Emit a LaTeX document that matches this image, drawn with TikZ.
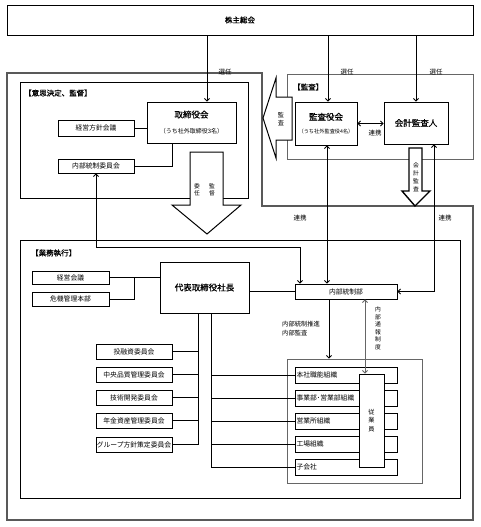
\documentclass[tikz,border=0pt]{standalone}
\usepackage{fontspec}
\setmainfont{Noto Sans CJK JP}
\newfontfamily\jpbold[FakeBold=0.7]{Noto Sans CJK JP}
\usetikzlibrary{arrows.meta}
\begin{document}
\begin{tikzpicture}[x=1pt,y=-1pt,
 box/.style={draw=black, line width=0.9pt, fill=white, inner sep=0pt, font=\fontsize{6.8}{8}\selectfont},
 orgb/.style={box, minimum width=102pt, minimum height=16pt, text width=99pt, align=left, inner xsep=1.5pt},
 comm/.style={box, minimum width=76pt, minimum height=15pt},
 lbl/.style={inner sep=0pt, font=\fontsize{6.5}{7.5}\selectfont},
 vlbl/.style={inner sep=0pt, align=center},
 hdr/.style={inner sep=0pt, anchor=west, font=\jpbold\fontsize{7.5}{9}\selectfont},
 conn/.style={line width=0.8pt},
 arr/.style={conn, -{Straight Barb[length=2.5pt,width=5pt]}},
 arrb/.style={conn, {Straight Barb[length=2.5pt,width=5pt]}-{Straight Barb[length=2.5pt,width=5pt]}},
 blockarrow/.style={draw=black, line width=1pt, fill=white},
 areabox/.style={line width=1pt},
]
\useasboundingbox (0,0) rectangle (480,527);
\fill[white] (0,0) rectangle (480,527);

% outer frame and areas
\draw[draw=black!65, line width=2.2pt] (7,73) -- (262,73) -- (262,206) -- (473,206) -- (473,520) -- (7,520) -- cycle;
\draw[areabox] (20,82) rectangle (248,198);
\draw[areabox, draw=black!60] (287,74) rectangle (473,159);
\draw[areabox] (20,240) rectangle (460,498);

% block arrows
\draw[blockarrow] (190,152) -- (223,152) -- (223,205) -- (241,205) -- (207,234) -- (172,205) -- (190,205) -- cycle;
\draw[blockarrow] (292,97) -- (276,97) -- (276,78) -- (263,118) -- (276,158) -- (276,140) -- (292,140) -- cycle;
\draw[blockarrow, line width=1.4pt] (409,148) -- (422,148) -- (422,191) -- (430,191) -- (415,206) -- (402,191) -- (409,191) -- cycle;

% headers
\node[hdr] (h1) at (24,93) {【意思決定、監督】};
\node[hdr] (h2) at (293,87) {【監査】};
\node[hdr] (h3) at (31,253) {【業務執行】};

% main nodes
\node[box, minimum width=466pt, minimum height=30pt, font=\jpbold\fontsize{7.5}{9}\selectfont] (sh) at (240,20) {株主総会};
\node[box, minimum width=89pt, minimum height=41pt, align=center, font=\jpbold\fontsize{8.5}{16}\selectfont] (tor) at (191.5,122.5) {取締役会\\{\normalfont\fontsize{6}{7}\selectfont （うち社外取締役3名）}};
\node[box, minimum width=62pt, minimum height=43pt, align=center, font=\jpbold\fontsize{8.5}{13.5}\selectfont] (kan) at (326,123.5) {監査役会\\{\normalfont\fontsize{5.2}{6}\selectfont （うち社外監査役4名）}};
\node[box, minimum width=64pt, minimum height=42pt, font=\jpbold\fontsize{8.5}{10}\selectfont] (kai) at (416,123) {会計監査人};
\node[box, minimum width=76pt, minimum height=16pt] (keiei) at (96,128) {経営方針会議};
\node[box, minimum width=76pt, minimum height=14pt] (naibuiin) at (96,166) {内部統制委員会};

\node[box, minimum width=89pt, minimum height=51pt, font=\jpbold\fontsize{8.5}{10}\selectfont] (daihyo) at (204.5,287.5) {代表取締役社長};
\node[box, minimum width=77pt, minimum height=13pt] (keieikaigi) at (70.5,277.5) {経営会議};
\node[box, minimum width=77pt, minimum height=14pt] (kiki) at (70.5,299) {危機管理本部};
\node[box, minimum width=102pt, minimum height=15pt] (naibu) at (346,291.5) {内部統制部};

\node[comm] (c1) at (134,351.5) {投融資委員会};
\node[comm] (c2) at (134,374.5) {中央品質管理委員会};
\node[comm] (c3) at (134,397.5) {技術開発委員会};
\node[comm] (c4) at (134,420.5) {年金資産管理委員会};
\node[comm] (c5) at (134,444.5) {グループ方針策定委員会};

\node[box, draw=black!60, minimum width=135pt, minimum height=124pt] (orgbox) at (354.5,421) {};
\node[orgb] (o1) at (346,375) {本社職能組織};
\node[orgb] (o2) at (346,398) {事業部･営業部組織};
\node[orgb] (o3) at (346,421) {営業所組織};
\node[orgb] (o4) at (346,444) {工場組織};
\node[orgb] (o5) at (346,467) {子会社};
\node[box, minimum width=25pt, minimum height=93pt, align=center, font=\fontsize{6.2}{8.5}\selectfont] (jug) at (371.5,420.5) {従\\業\\員};

% labels
\node[lbl] (s1) at (225,72) {選任};
\node[lbl] (s2) at (347,72) {選任};
\node[lbl] (s3) at (436,72) {選任};
\node[lbl] (r1) at (375,133) {連携};
\node[lbl] (r2) at (300,218) {連携};
\node[lbl] (r3) at (445,218) {連携};
\node[vlbl, font=\fontsize{5.8}{6.5}\selectfont] (v1) at (197,190) {委\\任};
\node[vlbl, font=\fontsize{5.8}{6.5}\selectfont] (v2) at (212,190) {監\\督};
\node[vlbl, font=\fontsize{6.2}{8}\selectfont] (v3) at (281,119.5) {監\\査};
\node[vlbl, font=\fontsize{5.8}{8}\selectfont] (v4) at (416,177) {会\\計\\監\\査};
\node[vlbl, font=\fontsize{5.8}{7.5}\selectfont] (v5) at (378,328.5) {内\\部\\通\\報\\制\\度};
\node[lbl, anchor=west, align=left, font=\fontsize{6.3}{8.5}\selectfont] (v6) at (282,328.5) {内部統制推進\\内部監査};

% connectors
\draw[arr] ([xshift=15.5pt]tor.north |- sh.south) -- ([xshift=15.5pt]tor.north);
\draw[arr] ([xshift=2pt]kan.north |- sh.south) -- ([xshift=2pt]kan.north);
\draw[arr] (kai.north |- sh.south) -- (kai.north);
\draw[conn] (keiei.east) -- (keiei.east -| tor.west);
\draw[conn] (naibuiin.east) -| ([xshift=-19.5pt]tor.south);
\draw[arrb] (kan.east) -- (kan.east -| kai.west);
\draw[arrb] ([xshift=1pt]kan.south) -- ([xshift=1pt]kan.south |- naibu.north);
\draw[arrb] ([xshift=18pt]kai.south) |- (naibu.east);
\draw[arrb] (naibuiin.south) -- ++(0,74) -| ([xshift=-46pt]naibu.north);
\draw[conn] (daihyo.east |- naibu.west) -- (naibu.west);
\draw[conn] (keieikaigi.east) -- (keieikaigi.east -| daihyo.west);
\coordinate (j1) at (134,277.5);
\draw[conn] (kiki.east) -| (j1);
\coordinate (t1) at (198,444.5);
\draw[conn] (daihyo.south -| t1) -- (t1);
\foreach \c in {c1,c2,c3,c4,c5} \draw[conn] (\c.east) -- (\c.east -| t1);
\coordinate (t2) at (211,467);
\draw[conn] (daihyo.south -| t2) -- (t2);
\foreach \o in {o1,o2,o3,o4,o5} \draw[conn] (t2 |- \o.west) -- (\o.west);
\draw[arr] ([xshift=-17pt]naibu.south) -- ([xshift=-17pt]naibu.south |- orgbox.north);
\draw[arrb, draw=black!60] ([xshift=19pt]naibu.south) -- ([xshift=19pt]naibu.south |- jug.north);
\end{tikzpicture}
\end{document}
